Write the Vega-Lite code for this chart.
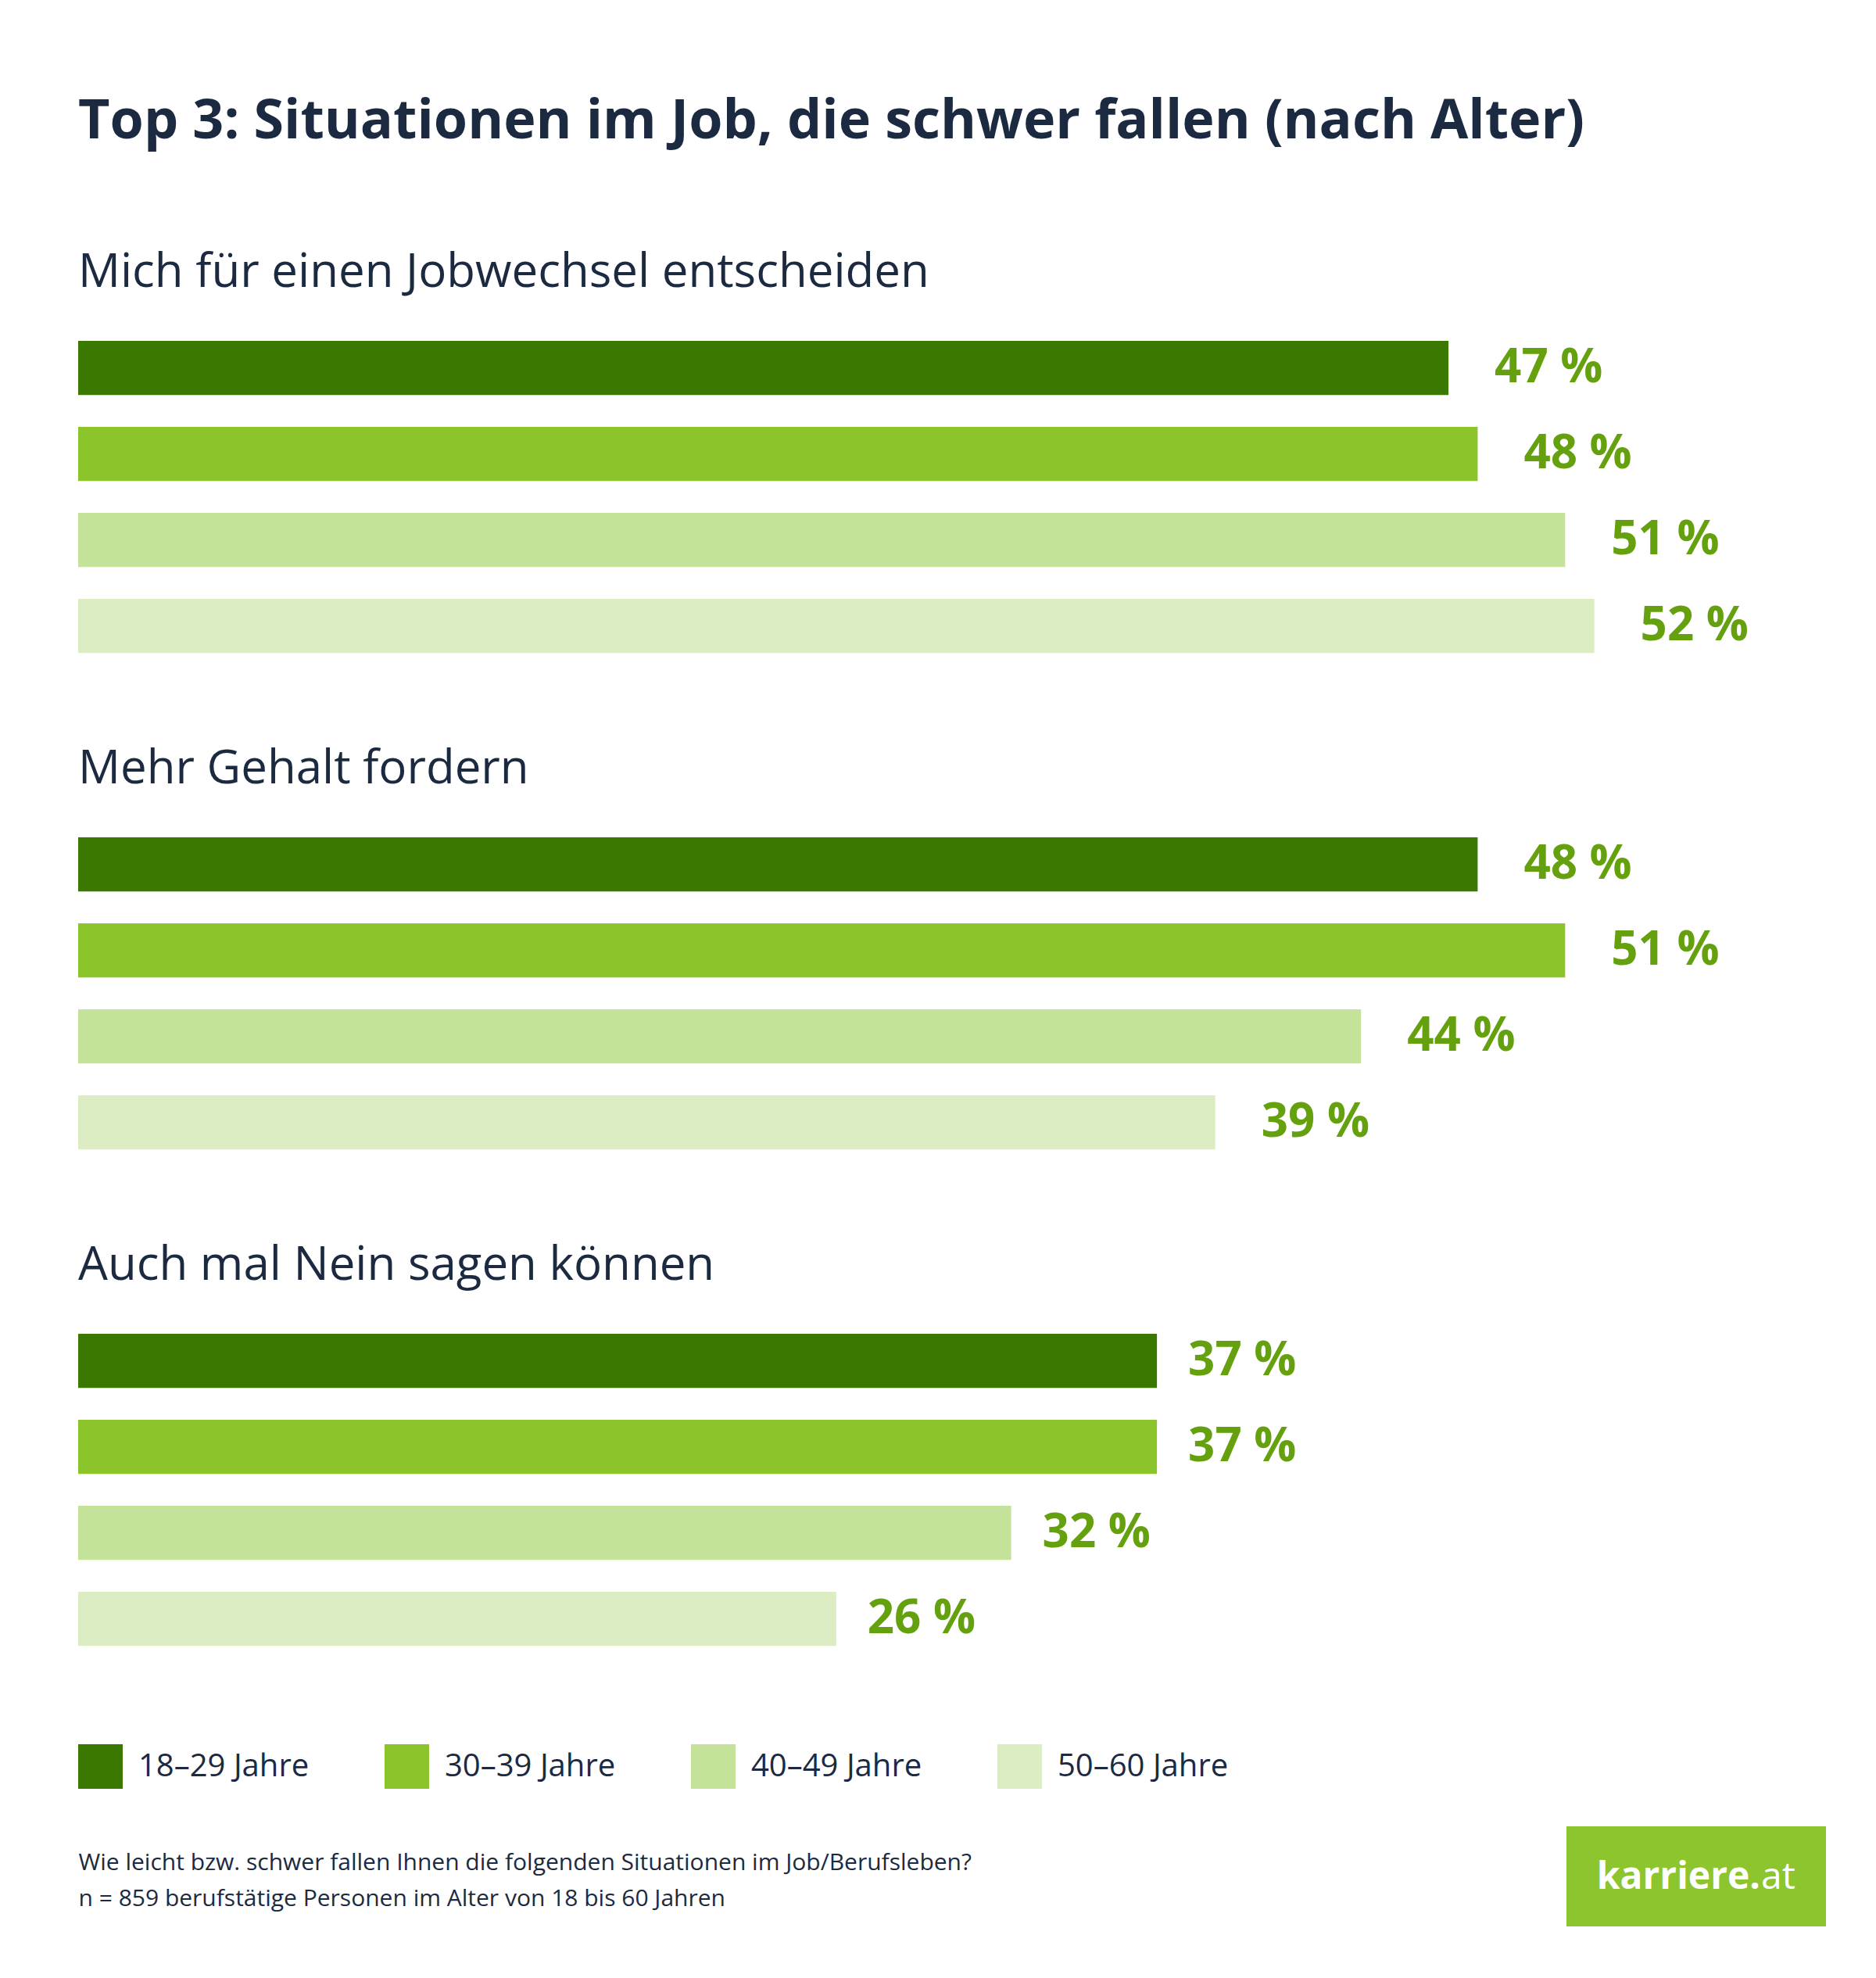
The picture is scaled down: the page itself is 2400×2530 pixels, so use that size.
{
  "$schema": "https://vega.github.io/schema/vega-lite/v6.json",
  "background": "white",
  "padding": {"left": 100, "top": 121, "right": 0, "bottom": 0},
  "config": {
    "font": "Open Sans",
    "view": {"stroke": null},
    "text": {"font": "Open Sans"}
  },
  "title": {
    "text": "Top 3: Situationen im Job, die schwer fallen (nach Alter)",
    "anchor": "start",
    "frame": "group",
    "fontSize": 70,
    "fontWeight": "bold",
    "font": "Open Sans",
    "color": "#1b2a41",
    "offset": 127
  },
  "datasets": {
    "results": [
      {"situation": "Mich für einen Jobwechsel entscheiden", "age": "18–29 Jahre", "value": 47, "label": "47 %"},
      {"situation": "Mich für einen Jobwechsel entscheiden", "age": "30–39 Jahre", "value": 48, "label": "48 %"},
      {"situation": "Mich für einen Jobwechsel entscheiden", "age": "40–49 Jahre", "value": 51, "label": "51 %"},
      {"situation": "Mich für einen Jobwechsel entscheiden", "age": "50–60 Jahre", "value": 52, "label": "52 %"},
      {"situation": "Mehr Gehalt fordern", "age": "18–29 Jahre", "value": 48, "label": "48 %"},
      {"situation": "Mehr Gehalt fordern", "age": "30–39 Jahre", "value": 51, "label": "51 %"},
      {"situation": "Mehr Gehalt fordern", "age": "40–49 Jahre", "value": 44, "label": "44 %"},
      {"situation": "Mehr Gehalt fordern", "age": "50–60 Jahre", "value": 39, "label": "39 %"},
      {"situation": "Auch mal Nein sagen können", "age": "18–29 Jahre", "value": 37, "label": "37 %"},
      {"situation": "Auch mal Nein sagen können", "age": "30–39 Jahre", "value": 37, "label": "37 %"},
      {"situation": "Auch mal Nein sagen können", "age": "40–49 Jahre", "value": 32, "label": "32 %"},
      {"situation": "Auch mal Nein sagen können", "age": "50–60 Jahre", "value": 26, "label": "26 %"}
    ],
    "notes": [
      {"line": 1, "note": "Wie leicht bzw. schwer fallen Ihnen die folgenden Situationen im Job/Berufsleben?"},
      {"line": 2, "note": "n = 859 berufstätige Personen im Alter von 18 bis 60 Jahren"}
    ],
    "logo": [
      {"brand": "karriere.", "suffix": "at"}
    ]
  },
  "resolve": {"scale": {"color": "independent"}, "legend": {"color": "independent"}},
  "spacing": 48,
  "vconcat": [
    {
      "data": {"name": "results"},
      "facet": {
        "field": "situation",
        "type": "nominal",
        "sort": ["Mich für einen Jobwechsel entscheiden", "Mehr Gehalt fordern", "Auch mal Nein sagen können"],
        "header": {
          "title": null,
          "labelFontSize": 60,
          "labelFont": "Open Sans",
          "labelColor": "#1b2a41",
          "labelAnchor": "start",
          "labelAlign": "left",
          "labelPadding": 56
        }
      },
      "columns": 1,
      "spacing": {"row": 118},
      "spec": {
        "width": 2238,
        "height": {"step": 110},
        "layer": [
          {
            "mark": {"type": "bar"},
            "encoding": {
              "x": {"field": "value", "type": "quantitative", "scale": {"domain": [0, 60]}, "axis": null},
              "y": {
                "field": "age", "type": "nominal", "axis": null,
                "sort": ["18–29 Jahre", "30–39 Jahre", "40–49 Jahre", "50–60 Jahre"],
                "scale": {"paddingInner": 0.37, "paddingOuter": 0}
              },
              "color": {
                "field": "age", "type": "nominal",
                "scale": {
                  "domain": ["18–29 Jahre", "30–39 Jahre", "40–49 Jahre", "50–60 Jahre"],
                  "range": ["#3a7800", "#8cc42c", "#c5e29a", "#ddedc3"]
                },
                "legend": {
                  "title": null,
                  "orient": "bottom",
                  "direction": "horizontal",
                  "offset": 125,
                  "padding": 0,
                  "symbolType": "square",
                  "symbolSize": 3249,
                  "symbolStrokeWidth": 0,
                  "symbolOpacity": 1,
                  "labelFontSize": 40,
                  "labelFont": "Open Sans",
                  "labelColor": "#1b2a41",
                  "labelOffset": 20,
                  "labelLimit": 500,
                  "columnPadding": 96
                }
              }
            }
          },
          {
            "transform": [{"filter": "datum.situation !== 'Auch mal Nein sagen können'"}],
            "mark": {"type": "text", "align": "left", "baseline": "middle", "dx": 59, "fontSize": 60, "fontWeight": "bold", "color": "#65a10f"},
            "encoding": {
              "x": {"field": "value", "type": "quantitative"},
              "y": {"field": "age", "type": "nominal", "sort": ["18–29 Jahre", "30–39 Jahre", "40–49 Jahre", "50–60 Jahre"]},
              "text": {"field": "label"}
            }
          },
          {
            "transform": [{"filter": "datum.situation === 'Auch mal Nein sagen können'"}],
            "mark": {"type": "text", "align": "left", "baseline": "middle", "dx": 40, "fontSize": 60, "fontWeight": "bold", "color": "#65a10f"},
            "encoding": {
              "x": {"field": "value", "type": "quantitative"},
              "y": {"field": "age", "type": "nominal", "sort": ["18–29 Jahre", "30–39 Jahre", "40–49 Jahre", "50–60 Jahre"]},
              "text": {"field": "label"}
            }
          }
        ]
      }
    },
    {
      "bounds": "flush",
      "spacing": 1903,
      "hconcat": [
        {
          "data": {"name": "notes"},
          "width": 1,
          "height": 140,
          "mark": {"type": "text", "align": "left", "baseline": "middle", "fontSize": 30, "color": "#1b2a41"},
          "encoding": {
            "y": {"field": "line", "type": "ordinal", "axis": null, "scale": {"type": "point", "padding": 1.56}},
            "text": {"field": "note"}
          }
        },
        {
          "data": {"name": "logo"},
          "width": 332,
          "height": 128,
          "view": {"fill": "#8dc52f", "stroke": null},
          "layer": [
            {
              "mark": {"type": "text", "align": "right", "baseline": "alphabetic", "dx": 82, "dy": 16, "fontSize": 48, "fontWeight": "bold", "color": "white"},
              "encoding": {"text": {"field": "brand"}}
            },
            {
              "mark": {"type": "text", "align": "left", "baseline": "alphabetic", "dx": 83, "dy": 16, "fontSize": 48, "fontWeight": "normal", "color": "white"},
              "encoding": {"text": {"field": "suffix"}}
            }
          ]
        }
      ]
    }
  ]
}
